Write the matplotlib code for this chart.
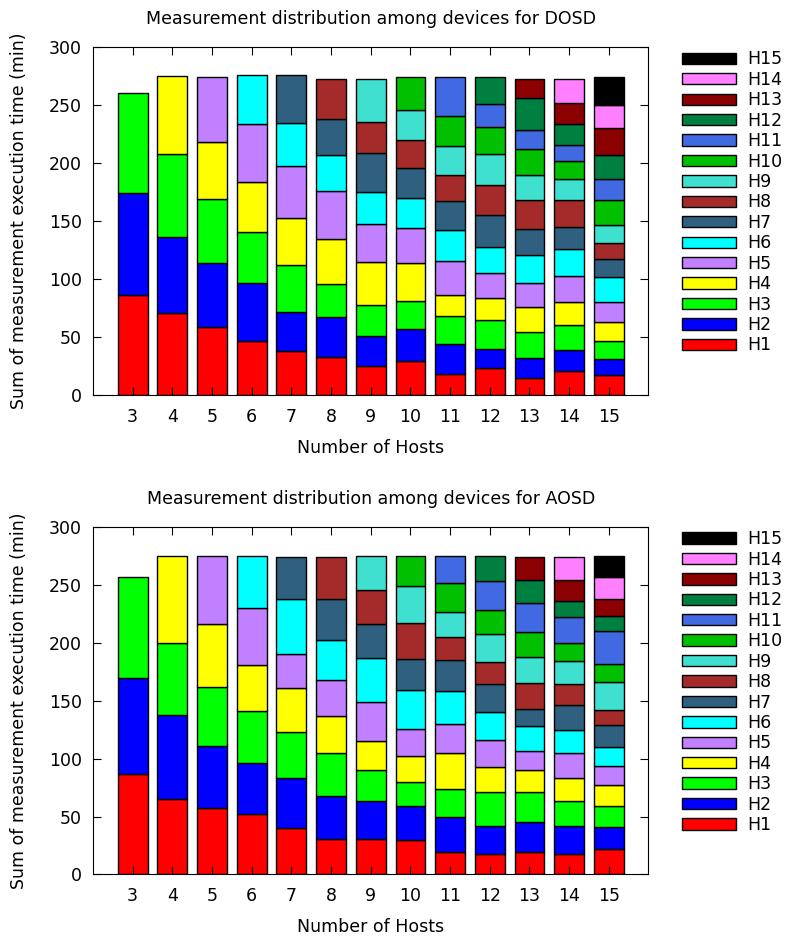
import matplotlib
matplotlib.use('Agg')
import matplotlib.pyplot as plt
from matplotlib.patches import Patch

# number of hosts on the x axis
hosts = [3, 4, 5, 6, 7, 8, 9, 10, 11, 12, 13, 14, 15]
labels = ['H%d' % i for i in range(1, 16)]
colors = ['#ff0000', '#0000ff', '#00ff00', '#ffff00', '#c080ff', '#00ffff',
          '#306080', '#a52a2a', '#40e0d0', '#00c000', '#4169e1', '#008040',
          '#8b0000', '#ff80ff', '#000000']

# per-bar segment heights (H1 first), minutes
dosd = [
    [86, 88, 87],
    [71, 65, 72, 67],
    [59, 55, 55, 49, 56],
    [47, 50, 44, 43, 50, 42],
    [38, 34, 40, 41, 45, 37, 41],
    [33, 34, 29, 39, 41, 31, 31, 35],
    [25, 26, 27, 37, 33, 27, 34, 27, 37],
    [29, 28, 24, 33, 30, 26, 26, 24, 26, 28],
    [18, 26, 24, 18, 30, 26, 25, 23, 25, 26, 33],
    [23, 17, 25, 19, 21, 23, 27, 26, 27, 23, 20, 23],
    [15, 17, 22, 22, 21, 24, 22, 25, 22, 22, 17, 27, 17],
    [21, 18, 21, 20, 23, 23, 19, 23, 18, 16, 14, 18, 18, 21],
    [17, 14, 16, 16, 17, 22, 15, 14, 16, 21, 18, 21, 23, 20, 24],
]
aosd = [
    [87, 83, 87],
    [65, 73, 62, 75],
    [57, 54, 51, 54, 59],
    [52, 44, 45, 40, 49, 45],
    [40, 43, 40, 38, 29, 48, 36],
    [31, 37, 37, 32, 31, 34, 36, 36],
    [31, 32, 27, 25, 34, 38, 29, 30, 29],
    [30, 29, 21, 22, 24, 33, 27, 31, 32, 26],
    [19, 31, 24, 31, 25, 28, 27, 20, 22, 25, 23],
    [18, 24, 29, 22, 23, 24, 24, 19, 25, 20, 25, 22],
    [19, 26, 26, 19, 17, 21, 15, 22, 23, 21, 25, 20, 20],
    [18, 24, 21, 20, 22, 20, 21, 18, 20, 16, 22, 14, 18, 20],
    [22, 19, 18, 18, 17, 16, 19, 13, 24, 16, 28, 13, 15, 19, 18],
]
titles = ['Measurement distribution among devices for DOSD',
          'Measurement distribution among devices for AOSD']

fs = 12.5
fig = plt.figure(figsize=(7.86, 9.41), dpi=100)
ax_top = fig.add_axes([0.1183, 0.5802, 0.7067, 0.3695])
ax_bot = fig.add_axes([0.1183, 0.0707, 0.7067, 0.3693])

for ax, data, title in zip([ax_top, ax_bot], [dosd, aosd], titles):
    for i, segs in enumerate(data):
        bottom = 0
        for k, v in enumerate(segs):
            ax.bar(i, v, bottom=bottom, width=0.75, color=colors[k],
                   edgecolor='black', linewidth=1.0)
            bottom += v
    ax.set_xlim(-1, len(hosts))
    ax.set_ylim(0, 300)
    ax.set_xticks(range(len(hosts)))
    ax.set_xticklabels([str(h) for h in hosts])
    ax.set_yticks(range(0, 301, 50))
    ax.tick_params(direction='in', top=True, right=True, length=6,
                   labelsize=fs, pad=8)
    ax.tick_params(axis='x', pad=9)
    ax.set_title(title, fontsize=fs, pad=16.5)
    ax.set_xlabel('Number of Hosts', fontsize=fs, labelpad=9.5)
    ax.set_ylabel('Sum of measurement execution time (min)', fontsize=fs,
                  labelpad=15)
    handles = [Patch(facecolor=colors[k], edgecolor='black', label=labels[k])
               for k in range(15)][::-1]
    ax.legend(handles=handles, loc='upper left', bbox_to_anchor=(1.048, 1.011),
              frameon=False, fontsize=fs, handlelength=3.1, handleheight=0.63,
              labelspacing=0.14, handletextpad=0.63, borderaxespad=0)

fig.savefig('out.png', dpi=100)
